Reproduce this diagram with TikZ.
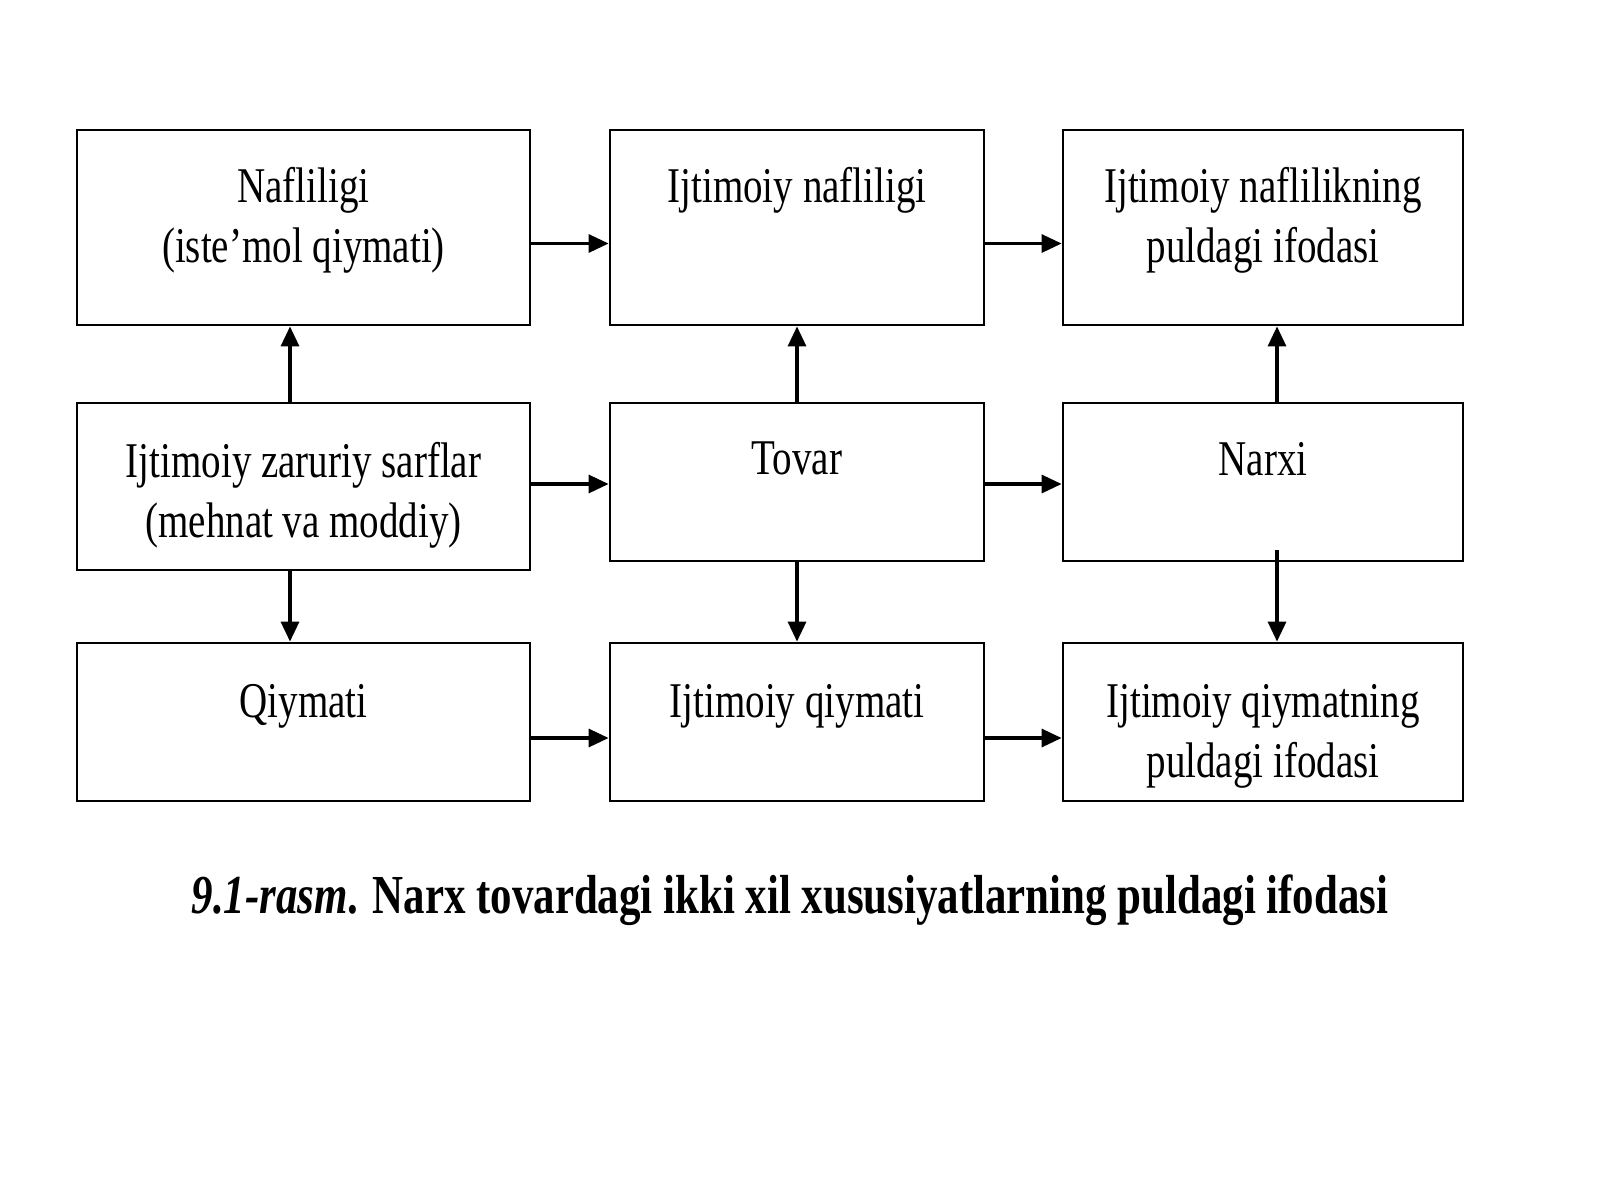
\documentclass[tikz,border=0pt]{standalone}
\usepackage{fontspec}
\setmainfont{Liberation Serif}[FakeStretch=0.78]
\usetikzlibrary{arrows.meta}
\begin{document}
\begin{tikzpicture}[x=0.5pt,y=-0.5pt,
  bx/.style={draw,line width=1.4pt,inner sep=0pt},
  tx/.style={anchor=north,align=center,font=\fontsize{25}{30}\selectfont,inner sep=0pt},
  ar/.style={line width=1.6pt,-{Triangle[length=10pt,width=9pt]}}]
\useasboundingbox (0,0) rectangle (1600,1200);
\newcommand\bxx[5]{\node[bx,minimum width=#3*0.5pt,minimum height=#4*0.5pt] (#5) at (#1,#2) {};}
\bxx{303.5}{227.5}{453}{195}{a1}
\bxx{797}{227.5}{374}{195}{a2}
\bxx{1263}{227.5}{400}{195}{a3}
\bxx{303.5}{486.5}{453}{167}{b1}
\bxx{797}{482}{374}{158}{b2}
\bxx{1263}{482}{400}{158}{b3}
\bxx{303.5}{722}{453}{158}{c1}
\bxx{797}{722}{374}{158}{c2}
\bxx{1263}{722}{400}{158}{c3}
\node[tx] (ta1) at ([yshift=-19pt]a1.north) {Nafliligi\\(iste\char"27mol qiymati)};
\node[tx] (ta2) at ([yshift=-19pt]a2.north) {Ijtimoiy nafliligi};
\node[tx] (ta3) at ([yshift=-19pt]a3.north) {Ijtimoiy naflilikning\\puldagi ifodasi};
\node[tx] (tb1) at ([yshift=-20pt]b1.north) {Ijtimoiy zaruriy sarflar\\(mehnat va moddiy)};
\node[tx] (tb2) at ([yshift=-20pt]b2.north) {Tovar};
\node[tx] (tb3) at ([yshift=-20pt]b3.north) {Narxi};
\node[tx] (tc1) at ([yshift=-21pt]c1.north) {Qiymati};
\node[tx] (tc2) at ([yshift=-21pt]c2.north) {Ijtimoiy qiymati};
\node[tx] (tc3) at ([yshift=-21pt]c3.north) {Ijtimoiy qiymatning\\puldagi ifodasi};
\foreach \l/\r in {a1/a2,a2/a3,c1/c2,c2/c3} \draw[ar] ([yshift=-8pt]\l.east) -- ([yshift=-8pt]\r.west);
\draw[ar] ([yshift=-1pt]b2.west -| b1.east) -- ([yshift=-1pt]b2.west);
\draw[ar] ([yshift=-1pt]b2.east) -- ([yshift=-1pt]b3.west);
\draw[ar] ([xshift=-6.75pt]b1.north) -- ([xshift=-6.75pt]a1.south);
\draw[ar] ([xshift=-6.75pt]b1.south) -- ([xshift=-6.75pt]c1.north);
\draw[ar] (b2.north) -- (a2.south);
\draw[ar] (b2.south) -- (c2.north);
\draw[ar] ([xshift=7pt]b3.north) -- ([xshift=7pt]a3.south);
\draw[ar] ([xshift=7pt,yshift=6pt]b3.south) -- ([xshift=7pt]c3.north);
\node[font=\fontsize{27.5}{32}\selectfont\bfseries,inner sep=0pt] (cap) at (790,900) {\textit{9.1-rasm}. Narx tovardagi ikki xil xususiyatlarning puldagi ifodasi};
\end{tikzpicture}
\end{document}
